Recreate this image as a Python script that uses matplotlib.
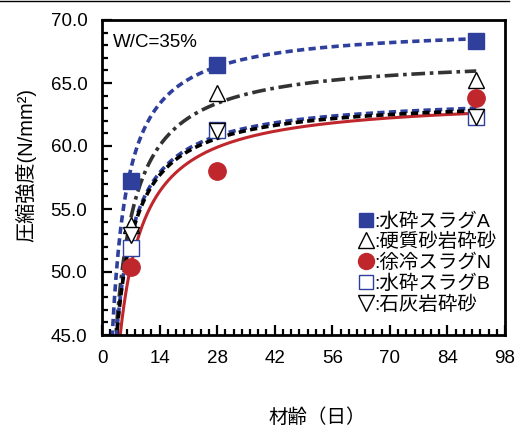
import numpy as np
import matplotlib
matplotlib.use('Agg')
import matplotlib.pyplot as plt
from matplotlib.lines import Line2D

plt.rcParams['font.family'] = ['Liberation Sans', 'Noto Sans CJK JP', 'DejaVu Sans']

# measured ages (days)
ages = [7, 28, 91]

# compressive strength (N/mm2)
slag_a = [57.2, 66.4, 68.3]       # 水砕スラグA
sandstone = [53.7, 64.2, 65.2]    # 硬質砂岩砕砂
slag_n = [50.4, 58.0, 63.8]       # 徐冷スラグN
slag_b = [51.9, 61.3, 62.3]       # 水砕スラグB
limestone = [52.9, 61.2, 62.3]    # 石灰岩砕砂

# trend curves f(t) = t / (a + b t), coefficients
fit_a = [0.01968, 0.02477, 0.02913, 0.02323, 0.02338]
fit_b = [0.014380, 0.014891, 0.015654, 0.015618, 0.015667]

labels = [':水砕スラグA', ':硬質砂岩砕砂', ':徐冷スラグN', ':水砕スラグB', ':石灰岩砕砂']

blue = '#2f3f9c'
red = '#c0272d'

fig = plt.figure(figsize=(5.17, 4.29), dpi=100)
ax = fig.add_axes([102 / 517, 94 / 429, 403 / 517, 315 / 429])

t = np.linspace(1.0, 91, 400)
curve_styles = [
    dict(color=blue, lw=2.6, ls=(0, (2.0, 1.2))),
    dict(color='#333333', lw=2.6, ls=(0, (3.8, 1.3, 1.0, 1.3))),
    dict(color=red, lw=2.2, ls='-'),
    dict(color=blue, lw=2.6, ls=(0, (2.0, 1.2))),
    dict(color='black', lw=2.6, ls=(1.0, (2.0, 1.2))),
]
for i in range(5):
    ax.plot(t, t / (fit_a[i] + fit_b[i] * t), zorder=2, **curve_styles[i])

ax.plot(ages, slag_a, 's', ms=12, mfc=blue, mec=blue, zorder=3)
ax.plot(ages, sandstone, '^', ms=12, mfc='white', mec='black', mew=1.0, zorder=3)
ax.plot(ages, slag_n, 'o', ms=12.5, mfc=red, mec=red, zorder=3)
ax.plot(ages, slag_b, 's', ms=11.5, mfc='white', mec=blue, mew=1.0, zorder=3)
ax.plot(ages, limestone, 'v', ms=12, mfc='white', mec='black', mew=1.0, zorder=4)

ax.set_xlim(0, 98)
ax.set_ylim(45, 70)
ax.set_xticks(np.arange(0, 99, 14))
ax.set_xticks(np.arange(0, 99, 2), minor=True)
ax.set_yticks(np.arange(45, 70.1, 5))
ax.set_yticks(np.arange(45, 70.1, 1), minor=True)
ax.set_yticklabels(['%.1f' % v for v in np.arange(45, 70.1, 5)])
ax.tick_params(which='both', direction='in', top=False, right=False, width=1.6, labelsize=13.5)
ax.tick_params(which='major', length=7.5)
ax.tick_params(which='minor', length=4)
ax.tick_params(axis='x', pad=11)
ax.tick_params(axis='y', pad=10.5)
for s in ax.spines.values():
    s.set_linewidth(2.0)

ax.set_ylabel('圧縮強度(N/mm²)', fontsize=14.5)
ax.yaxis.set_label_coords(-0.163, 0.54)
ax.set_xlabel('材齢（日）', fontsize=14)
ax.xaxis.set_label_coords(0.535, -0.232)
ax.xaxis.label.set_va('top')

ax.text(0.028, 0.93, 'W/C=35%', transform=ax.transAxes, fontsize=13.5, va='center', ha='left')

handles = [
    Line2D([], [], ls='none', marker='s', ms=10.5, mfc=blue, mec=blue),
    Line2D([], [], ls='none', marker='^', ms=11, mfc='white', mec='black', mew=1.0),
    Line2D([], [], ls='none', marker='o', ms=11.5, mfc=red, mec=red),
    Line2D([], [], ls='none', marker='s', ms=10.5, mfc='white', mec=blue, mew=1.0),
    Line2D([], [], ls='none', marker='v', ms=11, mfc='white', mec='black', mew=1.0),
]
ax.legend(handles, labels, loc='upper left', bbox_to_anchor=(0.635, 0.39), frameon=False,
          fontsize=14, handlelength=0.8, handletextpad=0.05, labelspacing=0.13,
          borderpad=0, borderaxespad=0)

fig.add_artist(Line2D([0, 0.985], [0.998, 0.998], color='black', lw=1.0, transform=fig.transFigure))

fig.savefig('out.png', dpi=100)
